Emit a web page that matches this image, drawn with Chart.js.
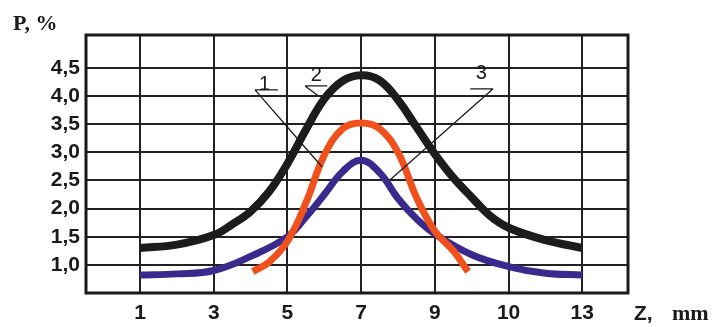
<!DOCTYPE html>
<html>
<head>
    <meta charset="UTF-8">
    <title>P, % vs Z, mm</title>
    <script src="https://cdn.jsdelivr.net/npm/chart.js"></script>
    <style>
        html, body { margin: 0; padding: 0; background: #fff; }
        #wrap { position: relative; width: 713px; height: 327px; }
    </style>
</head>
<body>
    <div id="wrap"><canvas id="chart"></canvas></div>

    <script>
        // x-axis labels (evenly spaced on the original figure)
        const zLabels = ['1', '3', '5', '7', '9', '10', '13'];
        const yTicks = [1.0, 1.5, 2.0, 2.5, 3.0, 3.5, 4.0, 4.5];

        // curve 1 (orange): positions along the label index, values in %
        const curve1X = [1.53, 1.75, 2.0, 2.25, 2.5, 2.75, 3.0, 3.25, 3.5, 3.75, 4.0, 4.25, 4.45];
        const curve1Y = [0.88, 1.05, 1.42, 2.1, 2.95, 3.42, 3.52, 3.42, 3.0, 2.2, 1.6, 1.25, 0.88];

        // curve 2 (black)
        const curve2X = [0, 0.5, 1, 1.25, 1.5, 1.75, 2, 2.25, 2.5, 2.75, 3, 3.25, 3.5, 3.75, 4, 4.25, 4.5, 4.75, 5, 5.5, 6];
        const curve2Y = [1.3, 1.36, 1.53, 1.72, 1.95, 2.3, 2.8, 3.4, 3.95, 4.27, 4.37, 4.28, 3.93, 3.45, 2.97, 2.55, 2.2, 1.87, 1.66, 1.44, 1.3];

        // curve 3 (purple)
        const curve3X = [0, 0.5, 1, 1.5, 2, 2.25, 2.5, 2.75, 3, 3.25, 3.5, 3.75, 4, 4.5, 5, 5.5, 6];
        const curve3Y = [0.82, 0.84, 0.9, 1.15, 1.5, 1.85, 2.25, 2.66, 2.86, 2.64, 2.18, 1.82, 1.55, 1.18, 0.97, 0.85, 0.82];

        // numbered callouts: text spot, underline ends, leader end (in axis units)
        const callouts = [
            { text: '1', tx: 1.69, ty: 4.21, ux1: 1.56, ux2: 1.87, uy: 4.11, lx: 2.47, ly: 2.74 },
            { text: '2', tx: 2.39, ty: 4.36, ux1: 2.24, ux2: 2.54, uy: 4.18, lx: 2.42, ly: 4.0 },
            { text: '3', tx: 4.63, ty: 4.41, ux2: 4.48, ux1: 4.79, uy: 4.13, lx: 3.39, ly: 2.51 }
        ];

        function toPoints(xs, ys) {
            return xs.map((x, i) => ({ x: x, y: ys[i] }));
        }

        // frame, callouts and axis titles
        const extras = {
            id: 'extras',
            afterDatasetsDraw(chart) {
                const ctx = chart.ctx;
                const a = chart.chartArea;
                const xs = chart.scales.x, ys = chart.scales.y;
                ctx.save();
                ctx.strokeStyle = '#1a1a1a';
                ctx.lineWidth = 3;
                ctx.strokeRect(a.left, a.top, a.right - a.left, a.bottom - a.top);

                ctx.lineWidth = 1.3;
                ctx.fillStyle = '#1a1a1a';
                ctx.font = '20px "Liberation Sans", Arial, sans-serif';
                ctx.textAlign = 'center';
                ctx.textBaseline = 'middle';
                callouts.forEach(c => {
                    ctx.beginPath();
                    ctx.moveTo(xs.getPixelForValue(c.ux1), ys.getPixelForValue(c.uy));
                    ctx.lineTo(xs.getPixelForValue(c.ux2), ys.getPixelForValue(c.uy));
                    ctx.moveTo(xs.getPixelForValue(c.ux1), ys.getPixelForValue(c.uy));
                    ctx.lineTo(xs.getPixelForValue(c.lx), ys.getPixelForValue(c.ly));
                    ctx.stroke();
                    ctx.fillText(c.text, xs.getPixelForValue(c.tx), ys.getPixelForValue(c.ty));
                });

                ctx.textAlign = 'left';
                ctx.textBaseline = 'alphabetic';
                ctx.font = 'bold 22px "Liberation Serif", "Times New Roman", serif';
                ctx.fillText('P, %', 13, 30);
                ctx.font = 'bold 21px "Liberation Sans", Arial, sans-serif';
                ctx.fillText('Z,', 634, 320);
                ctx.font = 'bold 22px "Liberation Serif", "Times New Roman", serif';
                ctx.fillText('mm', 672, 320);
                ctx.restore();
            }
        };

        const lineStyle = {
            fill: false,
            pointRadius: 0,
            tension: 0.4,
            borderCapStyle: 'butt',
            borderJoinStyle: 'round'
        };

        new Chart(document.getElementById('chart'), {
            type: 'line',
            data: {
                datasets: [
                    Object.assign({ label: '2', data: toPoints(curve2X, curve2Y), borderColor: '#1c1c1c', borderWidth: 8 }, lineStyle),
                    Object.assign({ label: '1', data: toPoints(curve1X, curve1Y), borderColor: '#f0501c', borderWidth: 7 }, lineStyle),
                    Object.assign({ label: '3', data: toPoints(curve3X, curve3Y), borderColor: '#3a2a8e', borderWidth: 7 }, lineStyle)
                ]
            },
            options: {
                responsive: true,
                maintainAspectRatio: false,
                animation: false,
                layout: { padding: { left: 0, right: 85, top: 35, bottom: 0 } },
                plugins: {
                    legend: { display: false },
                    tooltip: { enabled: false }
                },
                scales: {
                    x: {
                        type: 'linear',
                        min: -0.733,
                        max: 6.62,
                        afterBuildTicks: axis => { axis.ticks = zLabels.map((_, i) => ({ value: i })); },
                        afterFit: axis => { axis.height = 34; },
                        grid: { color: '#222', lineWidth: 2, drawTicks: false },
                        border: { display: false },
                        ticks: {
                            padding: 8,
                            color: '#1a1a1a',
                            font: { family: '"Liberation Sans", Arial, sans-serif', size: 21, weight: 'bold' },
                            callback: v => zLabels[v],
                            maxRotation: 0,
                            autoSkip: false
                        }
                    },
                    y: {
                        min: 0.5,
                        max: 5.086,
                        afterBuildTicks: axis => { axis.ticks = yTicks.map(v => ({ value: v })); },
                        afterFit: axis => { axis.width = 86; },
                        grid: { color: '#222', lineWidth: 2, drawTicks: false },
                        border: { display: false },
                        ticks: {
                            padding: 6,
                            color: '#1a1a1a',
                            font: { family: '"Liberation Sans", Arial, sans-serif', size: 21, weight: 'bold' },
                            callback: v => v.toFixed(1).replace('.', ',')
                        }
                    }
                }
            },
            plugins: [extras]
        });
    </script>
</body>
</html>
